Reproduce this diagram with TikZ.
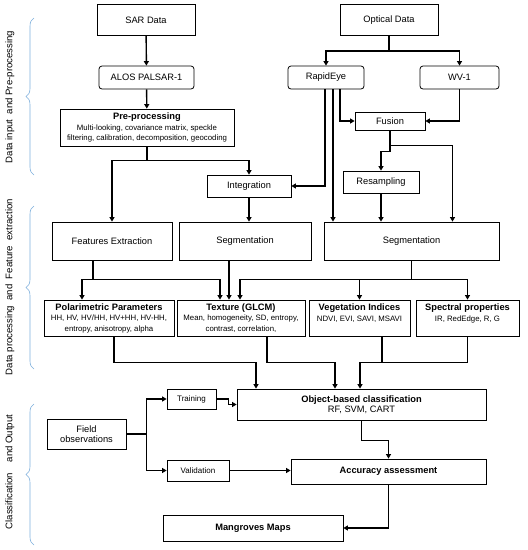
\documentclass[tikz,border=0pt]{standalone}
\usepackage{fontspec}
\setmainfont{Liberation Sans}
\usetikzlibrary{arrows.meta,positioning,decorations.pathreplacing}
\definecolor{bracecol}{RGB}{125,175,220}
\tikzset{
  fc/box/.style={draw, line width=0.8pt, align=center, inner sep=0pt, font=\fontsize{9.3}{10.5}\selectfont},
  fc/rbox/.style={fc/box, rounded corners=3pt},
  fc/small/.style={fc/box, font=\fontsize{8}{9.5}\selectfont},
  fc/line/.style={line width=1.4pt},
  fc/arrow/.style={fc/line, -{Triangle[length=4.5pt,width=5pt]}},
  fc/brace/.style={draw=bracecol, line width=0.6pt, decorate, decoration={brace, amplitude=8pt}},
  fc/side/.style={rotate=90, font=\fontsize{9.6}{10}\selectfont}
}
\newcommand{\descfont}{\fontsize{7.8}{10}\selectfont}

\begin{document}
\begin{tikzpicture}[x=1pt, y=-1pt]
  \useasboundingbox (0,0) rectangle (528,550);

  % inputs
  \node[fc/box, minimum width=98pt, minimum height=31pt] (sar) at (146,20) {SAR Data};
  \node[fc/box, minimum width=98pt, minimum height=31pt] (opt) at (389,20) {Optical Data};
  \node[fc/rbox, minimum width=95pt, minimum height=23pt] (alos) at (146.5,77.5) {ALOS PALSAR-1};
  \node[fc/rbox, minimum width=76pt, minimum height=23pt] (rapid) at (326,77.5) {RapidEye};
  \node[fc/rbox, minimum width=79pt, minimum height=23pt] (wv) at (459.5,77.5) {WV-1};

  % pre-processing
  \node[fc/box, minimum width=174pt, minimum height=37pt] (pre) at (147,127.5)
    {\textbf{Pre-processing}\\\descfont Multi-looking, covariance matrix, speckle\\\descfont filtering, calibration, decomposition, geocoding};
  \node[fc/box, minimum width=70pt, minimum height=18pt] (fusion) at (390,121) {Fusion};
  \node[fc/box, minimum width=84pt, minimum height=22pt] (integ) at (249,186) {Integration};
  \node[fc/box, minimum width=76pt, minimum height=22pt] (resamp) at (381,182) {Resampling};

  % feature extraction
  \node[fc/box, minimum width=120pt, minimum height=38pt] (featx) at (112,241) {Features Extraction};
  \node[fc/box, minimum width=132pt, minimum height=38pt] (seg1) at (245,241) {Segmentation};
  \node[fc/box, minimum width=175pt, minimum height=38pt] (seg2) at (411.5,241) {Segmentation};

  \node[fc/box, minimum width=130pt, minimum height=36pt] (polar) at (109,318)
    {\textbf{Polarimetric Parameters}\\\descfont HH, HV, HV/HH, HV+HH, HV-HH,\\\descfont entropy, anisotropy, alpha};
  \node[fc/box, minimum width=128pt, minimum height=36pt] (texture) at (241,318)
    {\textbf{Texture (GLCM)}\\\descfont Mean, homogeneity, SD, entropy,\\\descfont contrast, correlation,};
  \node[fc/box, minimum width=101pt, minimum height=36pt] (veg) at (359.5,318)
    {\textbf{Vegetation Indices}\\\descfont NDVI, EVI, SAVI, MSAVI\\\descfont\mbox{}};
  \node[fc/box, minimum width=103pt, minimum height=36pt] (spec) at (467.5,318)
    {\textbf{Spectral properties}\\\descfont IR, RedEdge, R, G\\\descfont\mbox{}};

  % classification
  \node[fc/box, minimum width=249pt, minimum height=31pt] (obc) at (361.5,404.5)
    {\textbf{Object-based classification}\\RF, SVM, CART};
  \node[fc/small, minimum width=49pt, minimum height=20pt] (train) at (191.5,399) {Training};
  \node[fc/box, minimum width=79pt, minimum height=30pt] (field) at (86.5,434) {Field\\observations};
  \node[fc/small, minimum width=62pt, minimum height=21pt] (valid) at (198,470.5) {Validation};
  \node[fc/box, minimum width=195pt, minimum height=25pt] (acc) at (388.5,471.5) {\textbf{Accuracy assessment}};
  \node[fc/box, minimum width=180pt, minimum height=26pt] (mang) at (253,528) {\textbf{Mangroves Maps}};

  % connectors, top part
  \draw[fc/arrow] (sar) -- (alos);
  \draw[fc/arrow] (alos) -- (pre);
  \draw[fc/line] (opt.south) -- ++(0,15) coordinate (optj);
  \draw[fc/arrow] (optj) -| (rapid);
  \draw[fc/arrow] (optj) -| (wv);
  \draw[fc/arrow] ([xshift=-1pt]rapid.south) |- (integ);
  \draw[fc/arrow] ([xshift=7pt]rapid.south) -- ([xshift=7pt]rapid.south |- seg2.north);
  \draw[fc/arrow] ([xshift=14pt]rapid.south) |- (fusion);
  \draw[fc/arrow] (wv) |- (fusion);
  \draw[fc/line] (fusion.south) -- ++(0,15) coordinate (fusj);
  \draw[fc/arrow] (fusj) -| ([xshift=41pt]seg2.north);
  \draw[fc/arrow] (fusj) -- ++(0,6) -| (resamp);
  \draw[fc/arrow] (resamp) -- (resamp |- seg2.north);
  \draw[fc/line] (pre.south) -- ++(0,14) coordinate (prej);
  \draw[fc/arrow] (prej) -| (featx);
  \draw[fc/arrow] (prej) -| (integ);
  \draw[fc/arrow] (integ) -- (integ |- seg1.north);

  % connectors, features
  \draw[fc/line] ([xshift=-19pt]featx.south) -- ++(0,19) coordinate (featj);
  \draw[fc/arrow] (featj) -| ([xshift=-27pt]polar.north);
  \draw[fc/arrow] (featj) -| ([xshift=-21pt]texture.north);
  \draw[fc/arrow] ([xshift=-16pt]seg1.south) -- ([xshift=-16pt]seg1.south |- texture.north);
  \draw[fc/line] (seg2.south) -- ++(0,19) coordinate (seg2j);
  \draw[fc/arrow] (seg2j) -| ([xshift=-1pt]texture.north);
  \draw[fc/arrow] (seg2j) -| (veg);
  \draw[fc/arrow] (seg2j) -| (spec);

  % connectors, classification
  \draw[fc/arrow] ([xshift=5pt]polar.south) -- ++(0,26) -| ([xshift=-105.5pt]obc.north);
  \draw[fc/arrow] ([xshift=26pt]texture.south) -- ++(0,26) -| ([xshift=-26.5pt]obc.north);
  \draw[fc/line] ([xshift=22.5pt]veg.south) -- ++(0,26);
  \draw[fc/arrow] (spec.south) -- ++(0,26) -| ([xshift=-1.5pt]obc.north);
  \draw[fc/line] (field.east) -- ++(20,0) coordinate (fieldj);
  \draw[fc/arrow] (fieldj) |- (train);
  \draw[fc/arrow] (fieldj) |- (valid);
  \draw[fc/arrow] (train.east) -- ++(12,0) |- (obc);
  \draw[fc/arrow] (valid.east) -- (valid.east -| acc.west);
  \draw[fc/arrow] (obc.south) -- ++(0,20) -| (acc);
  \draw[fc/arrow] (acc) |- (mang);

  % side braces and labels
  \draw[fc/brace] (34,175) -- (34,18) coordinate (b1);
  \draw[fc/brace] (34,369) -- (34,206) coordinate (b2);
  \draw[fc/brace] (34,545) -- (34,404) coordinate (b3);
  \node[fc/side] (lab1) at (10,97) {Data input\ \ and Pre-processing};
  \node[fc/side] (lab2) at (10,287) {Data processing\ \ and\ \ Feature\ \ extraction};
  \node[fc/side] (lab3) at (10,472) {Classification\ \ \ \ and Output};
\end{tikzpicture}
\end{document}
